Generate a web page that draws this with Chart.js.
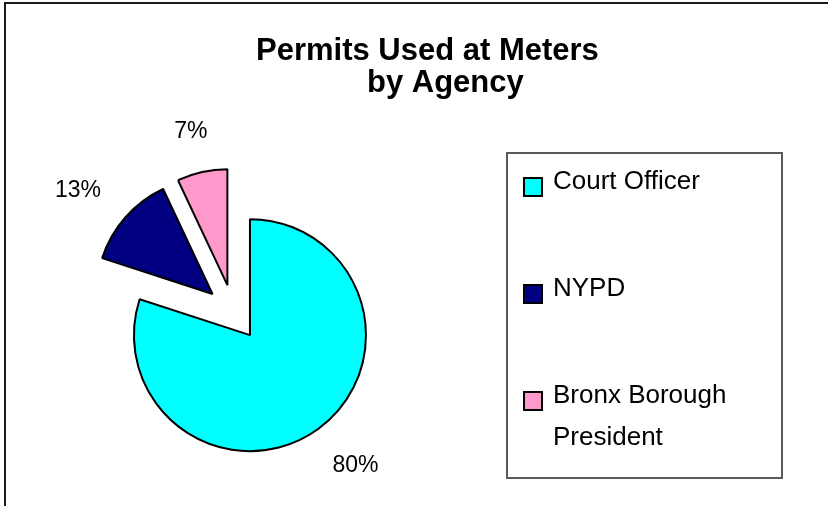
<!DOCTYPE html>
<html>
<head>
<meta charset="utf-8">
<script src="https://cdn.jsdelivr.net/npm/chart.js@4/dist/chart.umd.min.js"></script>
<style>
  html, body { margin: 0; padding: 0; background: #fff; }
</style>
</head>
<body>
<canvas id="pieAgency" width="828" height="506"></canvas>
<script>
const agencies = ['Court Officer', 'NYPD', 'Bronx Borough President'];
const permitShares = [80, 13, 7];
const sliceColors = ['#00FFFF', '#000080', '#FF99CC'];
const titleLines = ['Permits Used at Meters', 'by Agency'];

const FONT = '"Liberation Sans", Arial, sans-serif';
const EXPLODE = 28;     // how far every slice is pulled out
const LABEL_GAP = 22;

// pull each slice out from the centre along its middle angle
const explodePlugin = {
    id: 'explode',
    afterDatasetUpdate(chart, args) {
        args.meta.data.forEach(function (arc) {
            const mid = (arc.startAngle + arc.endAngle) / 2;
            arc.x += Math.cos(mid) * EXPLODE;
            arc.y += Math.sin(mid) * EXPLODE;
        });
    }
};

// percentage labels outside the slices
const labelPlugin = {
    id: 'sliceLabels',
    afterDatasetsDraw(chart) {
        const ctx = chart.ctx;
        const values = chart.data.datasets[0].data;
        const total = values.reduce((a, b) => a + b, 0);
        ctx.save();
        ctx.font = '23px ' + FONT;
        ctx.fillStyle = '#000';
        ctx.textAlign = 'center';
        ctx.textBaseline = 'alphabetic';
        chart.getDatasetMeta(0).data.forEach(function (arc, i) {
            const text = Math.round(values[i] / total * 100) + '%';
            const mid = (arc.startAngle + arc.endAngle) / 2;
            const w = ctx.measureText(text).width;
            const d = arc.outerRadius + LABEL_GAP;
            const x = arc.x + Math.cos(mid) * (d + w * 0.9);
            const y = arc.y + Math.sin(mid) * (d + 23 * 0.9);
            ctx.fillText(text, x, y + 8);
        });
        ctx.restore();
    }
};

// frame, title and boxed legend
const decorPlugin = {
    id: 'decor',
    beforeDraw(chart) {
        const ctx = chart.ctx;
        ctx.save();
        ctx.fillStyle = '#fff';
        ctx.fillRect(0, 0, chart.width, chart.height);
        ctx.restore();
    },
    afterDraw(chart) {
        const ctx = chart.ctx;
        ctx.save();

        ctx.strokeStyle = '#1a1a1a';
        ctx.lineWidth = 2;
        ctx.beginPath();
        ctx.moveTo(5, chart.height);
        ctx.lineTo(5, 3);
        ctx.lineTo(chart.width, 3);
        ctx.stroke();

        ctx.fillStyle = '#000';
        ctx.textAlign = 'left';
        ctx.textBaseline = 'alphabetic';
        ctx.font = 'bold 31px ' + FONT;
        ctx.fillText(titleLines[0], 256, 60);
        ctx.fillText(titleLines[1], 367, 92);

        ctx.strokeStyle = '#5a5a5a';
        ctx.lineWidth = 2;
        ctx.strokeRect(507, 153, 275, 325);

        const labels = chart.data.labels;
        const colors = chart.data.datasets[0].backgroundColor;
        ctx.font = '26px ' + FONT;
        labels.forEach(function (label, i) {
            const base = 189 + i * 107;
            ctx.fillStyle = colors[i];
            ctx.fillRect(524, base - 11, 18, 18);
            ctx.strokeStyle = '#000';
            ctx.lineWidth = 2;
            ctx.strokeRect(524, base - 11, 18, 18);

            // wrap long names inside the legend box
            const words = label.split(' ');
            const lines = [];
            let line = '';
            words.forEach(function (w) {
                const test = line ? line + ' ' + w : w;
                if (line && ctx.measureText(test).width > 215) {
                    lines.push(line);
                    line = w;
                } else {
                    line = test;
                }
            });
            lines.push(line);
            ctx.fillStyle = '#000';
            lines.forEach(function (t, j) {
                ctx.fillText(t, 553, base + j * 42);
            });
        });
        ctx.restore();
    }
};

new Chart(document.getElementById('pieAgency').getContext('2d'), {
    type: 'pie',
    data: {
        labels: agencies,
        datasets: [{
            data: permitShares,
            backgroundColor: sliceColors,
            borderColor: '#000',
            borderWidth: 2
        }]
    },
    options: {
        responsive: false,
        animation: false,
        events: [],
        radius: 116,
        layout: { padding: { left: 0, right: 361, top: 119, bottom: 0 } },
        plugins: {
            legend: { display: false },
            title: { display: false },
            tooltip: { enabled: false }
        }
    },
    plugins: [explodePlugin, labelPlugin, decorPlugin]
});
</script>
</body>
</html>
